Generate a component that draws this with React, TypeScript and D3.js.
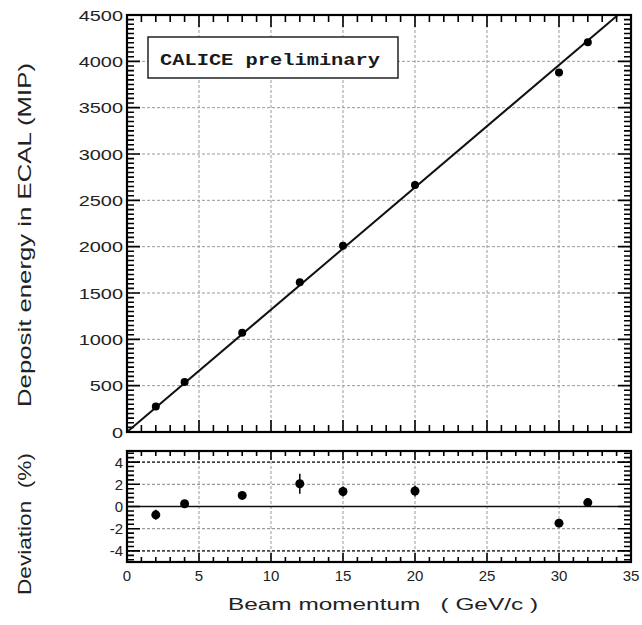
import * as d3 from 'd3'

// beam momenta (GeV/c) and measured deposit energy (MIP)
const momenta = [2, 4, 8, 12, 15, 20, 30, 32]
const energies = [275, 540, 1070, 1615, 2010, 2665, 3880, 4205]
// deviation from linear fit (%) with errors
const deviations = [-0.75, 0.25, 1.0, 2.05, 1.35, 1.4, -1.5, 0.35]
const devErrors = [0.45, 0.3, 0.3, 0.9, 0.45, 0.5, 0.3, 0.2]
const fitSlope = 132 // MIP per GeV/c

const xTicks = [0, 5, 10, 15, 20, 25, 30, 35]
const yTopTicks = [0, 500, 1000, 1500, 2000, 2500, 3000, 3500, 4000, 4500]
const yBotTicks = [-4, -2, 0, 2, 4]

const W = 642
const H = 625
const L = 127
const R = 631
const T1 = 15
const B1 = 432
const T2 = 451
const B2 = 562

const FONT = '"Liberation Sans", Arial, Helvetica, sans-serif'
const GRID = '#9a9a9a'

// inward ticks on both sides (left/right or bottom/top), as a path string
function tickPath(vals: number[], orient: 'x' | 'y', scale: (v: number) => number, a: number, b: number, len: number) {
  const path = d3.path()
  vals.forEach(v => {
    const p = scale(v)
    if (orient === 'y') {
      path.moveTo(a, p); path.lineTo(a + len, p)
      path.moveTo(b, p); path.lineTo(b - len, p)
    } else {
      path.moveTo(p, a); path.lineTo(p, a - len)
      path.moveTo(p, b); path.lineTo(p, b + len)
    }
  })
  return path.toString()
}

export default function App() {
  const x = d3.scaleLinear().domain([0, 35]).range([L, R])
  const yTop = d3.scaleLinear().domain([0, 4500]).range([B1, T1])
  const yBot = d3.scaleLinear().domain([-5, 5]).range([B2, T2])

  const xMinor = d3.range(0, 35.001, 1)
  const yTopMinor = d3.range(0, 4500.1, 50)
  const yBotMinor = d3.range(-4.8, 5, 0.4).map(v => Math.round(v * 10) / 10)

  const fitEnd = Math.min(35, 4500 / fitSlope)
  const fitLine = d3.line<number>().x(d => x(d)).y(d => yTop(d * fitSlope))([0, fitEnd]) ?? ''

  const xGrid = xTicks.filter(v => v > 0 && v < 35)

  const topTicks = [
    tickPath(yTopMinor, 'y', yTop, L, R, 7),
    tickPath(yTopTicks, 'y', yTop, L, R, 13),
    tickPath(xMinor, 'x', x, B1, T1, 7),
    tickPath(xTicks, 'x', x, B1, T1, 12),
  ].join('')
  const botTicks = [
    tickPath(yBotMinor, 'y', yBot, L, R, 7),
    tickPath(yBotTicks, 'y', yBot, L, R, 13),
    tickPath(xMinor, 'x', x, B2, T2, 5),
    tickPath(xTicks, 'x', x, B2, T2, 9),
  ].join('')

  return (
    <svg width={W} height={H} style={{ position: 'absolute', left: 0, top: 0, background: '#fff' }} fontFamily={FONT}>
      {/* ---------- top panel ---------- */}
      <g stroke={GRID} strokeWidth={1} strokeDasharray="3 2" fill="none">
        {xGrid.map(v => <line key={'gx' + v} x1={x(v)} x2={x(v)} y1={T1} y2={B1} />)}
        {yTopTicks.filter(v => v > 0 && v < 4500).map(v => <line key={'gy' + v} x1={L} x2={R} y1={yTop(v)} y2={yTop(v)} />)}
      </g>
      <path d={topTicks} stroke="#000" strokeWidth={1.6} fill="none" />

      {/* legend box */}
      <rect x={148} y={37} width={250} height={41} fill="#fff" stroke="#222" strokeWidth={1.5} />
      <text x={160} y={65} fontFamily='"Liberation Mono", "DejaVu Sans Mono", monospace' fontWeight="bold" fontSize={16} textLength={220} lengthAdjust="spacingAndGlyphs" fill="#1a1a1a">CALICE preliminary</text>

      <path d={fitLine} stroke="#111" strokeWidth={2} fill="none" />
      <g fill="#000">
        {momenta.map((m, i) => <circle key={i} cx={x(m)} cy={yTop(energies[i])} r={4} />)}
      </g>
      <rect x={L} y={T1} width={R - L} height={B1 - T1} fill="none" stroke="#000" strokeWidth={2.2} />

      {yTopTicks.map(v => (
        <text key={'ly' + v} transform={`translate(123,${yTop(v) + 5.5}) scale(1.33,1)`} textAnchor="end" fontSize={15} fill="#222">{v}</text>
      ))}

      {/* ---------- bottom panel ---------- */}
      <g fill="none" strokeDasharray="3 2">
        {xGrid.map(v => <line key={'bgx' + v} x1={x(v)} x2={x(v)} y1={T2} y2={B2} stroke={GRID} strokeWidth={1} />)}
        {yBotTicks.filter(v => v !== 0).map(v => (
          <line key={'bgy' + v} x1={L} x2={R} y1={yBot(v)} y2={yBot(v)} stroke={Math.abs(v) === 4 ? '#444' : GRID} strokeWidth={Math.abs(v) === 4 ? 1.6 : 1.2} />
        ))}
      </g>
      <line x1={L} x2={R} y1={yBot(0)} y2={yBot(0)} stroke="#111" strokeWidth={1.6} />
      <path d={botTicks} stroke="#000" strokeWidth={1.6} fill="none" />

      <g stroke="#000" strokeWidth={1.5}>
        {momenta.map((m, i) => (
          <line key={i} x1={x(m)} x2={x(m)} y1={yBot(deviations[i] - devErrors[i])} y2={yBot(deviations[i] + devErrors[i])} />
        ))}
      </g>
      <g fill="#000">
        {momenta.map((m, i) => <circle key={i} cx={x(m)} cy={yBot(deviations[i])} r={4.5} />)}
      </g>
      <rect x={L} y={T2} width={R - L} height={B2 - T2} fill="none" stroke="#000" strokeWidth={2.2} />

      {yBotTicks.map(v => (
        <text key={'lb' + v} x={123} y={yBot(v) + 5.5} textAnchor="end" fontSize={15} fill="#222">{v}</text>
      ))}
      {xTicks.map(v => (
        <text key={'lx' + v} x={x(v)} y={581} textAnchor="middle" fontSize={15} fill="#222">{v}</text>
      ))}

      {/* ---------- axis titles ---------- */}
      <text x={383} y={610} textAnchor="middle" fontSize={17} textLength={310} lengthAdjust="spacingAndGlyphs" fill="#222" style={{ whiteSpace: 'pre' }}>Beam momentum   ( GeV/c )</text>
      <text transform="translate(31,235) rotate(-90)" textAnchor="middle" fontSize={18} textLength={344} lengthAdjust="spacingAndGlyphs" fill="#222">Deposit energy in ECAL (MIP)</text>
      <text transform="translate(31,524) rotate(-90)" textAnchor="middle" fontSize={18} textLength={142} lengthAdjust="spacingAndGlyphs" fill="#222" style={{ whiteSpace: 'pre' }}>Deviation  (%)</text>
    </svg>
  )
}
